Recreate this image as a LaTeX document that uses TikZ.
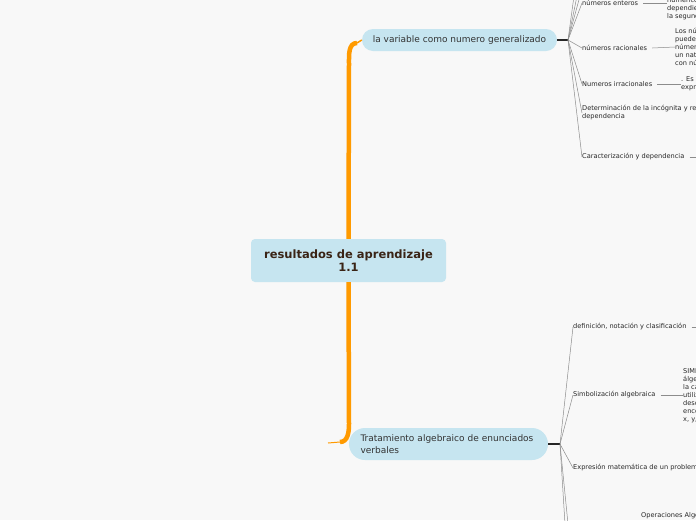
\documentclass[tikz,border=0pt]{standalone}
\usepackage{fontspec}
\setmainfont{DejaVu Sans}
\usetikzlibrary{positioning}
\definecolor{paper}{HTML}{F8F8F8}
\definecolor{bubble}{HTML}{C6E5F0}
\definecolor{rootink}{HTML}{3A2416}
\definecolor{trunkorange}{HTML}{FF9A00}
\definecolor{twiggray}{HTML}{8C8C8C}
\tikzset{
	x=1pt, y=-1pt, % one unit is one pixel of the map, y runs down
	rootbox/.style={fill=bubble, rounded corners=4pt, minimum width=195pt, minimum height=43pt, align=center, text=rootink, font=\bfseries\fontsize{11.5}{13.5}\selectfont}, % the centre topic
	branch/.style={fill=bubble, inner sep=0pt, text=black!80, font=\fontsize{9}{11.5}\selectfont}, % the two main topics
	leaf/.style={anchor=west, inner sep=0pt, align=left, text=black!85, font=\fontsize{6.6}{8}\selectfont}, % the small topics
	trunk/.style={draw=trunkorange, line width=4.5pt}, % orange connectors
	stub/.style={draw=black!85, line width=2.5pt}, % short black end after a main topic
	twig/.style={draw=twiggray, line width=0.5pt}, % thin gray connectors
}
\begin{document}
\begin{tikzpicture}
	\fill[paper] (0,0) rectangle (696,520);
	\useasboundingbox (0,0) rectangle (696,520);
	\clip (0,0) rectangle (696,520);

	% main topics
	\node[rootbox] (root) at (348.5,260.5) {resultados de aprendizaje\\1.1};
	\node[branch, rounded corners=11pt, minimum width=195pt, minimum height=22pt] (var) at (459.5,40) {la variable como numero generalizado};
	\node[branch, rounded corners=16pt, minimum width=199pt, minimum height=32pt, align=left, text width=176pt] (trat) at (448.5,444) {Tratamiento algebraico de enunciados\\verbales};

	% orange connectors
	\draw[trunk] (root.north) -- (349,64) to[out=90,in=180] (357,43);
	\draw[draw=trunkorange, line width=1.5pt] (357,43) -- (var.west);
	\draw[trunk] (root.south) -- (349,424) to[out=270,in=0] (340,442);
	\draw[draw=trunkorange, line width=1pt] (340,442) -- (328,443);

	% junctions
	\coordinate (vj) at (568,40);
	\coordinate (tj) at (560,444);
	\draw[stub] (var.east) -- (vj);
	\draw[stub] (trat.east) -- (tj);

	% small topics of the first branch
	\node[leaf] (enteros) at (582,3) {números enteros};
	\node[leaf] (racionales) at (582,48) {números racionales};
	\node[leaf] (irracionales) at (582,84) {Numeros irracionales};
	\node[leaf] (incognita) at (582,113) {Determinación de la incógnita y relación de\\dependencia};
	\node[leaf] (caract) at (582,157) {Caracterización y dependencia};
	\coordinate (upa) at (574,-4);
	\coordinate (upb) at (577,-4);
	\coordinate (upc) at (580,-4);

	\node[leaf] (enterosdef) at (667,9) {numéricos\\dependientes\\la segunda};
	\node[leaf] (racionalesdef) at (675,47) {Los números\\pueden ser\\números\\un natural\\con números};
	\node[leaf] (irracionalesdef) at (681,84) {. Es el\\expresión};
	\coordinate (caractend) at (700,157);

	\foreach \t in {enteros,racionales,irracionales,incognita,caract}
		\draw[twig] (vj) -- (\t.west);
	\foreach \t in {upa,upb,upc}
		\draw[twig] (vj) -- (\t);
	\draw[twig] (enteros.east) ++(5,0) -- (enterosdef.west |- enteros.west);
	\draw[twig] (racionales.east) ++(5,0) -- (racionalesdef.west);
	\draw[twig] (irracionales.east) ++(5,0) -- (irracionalesdef.west);
	\draw[twig] (caract.east) ++(5,0) -- (caractend);

	% small topics of the second branch
	\node[leaf] (definicion) at (573,327) {definición, notación y clasificación};
	\node[leaf] (simbol) at (573,395) {Simbolización algebraica};
	\node[leaf] (expresion) at (573,468) {Expresión matemática de un problema};
	\node[leaf] (operac) at (641,516) {Operaciones Algebraicas};
	\coordinate (downa) at (565,524);
	\coordinate (downb) at (568,524);

	\node[leaf] (simboldef) at (683,395) {SIMBOLIZACIÓN\\álgebra\\la cantidad\\utilizando\\desconocida\\encontrar\\x, y, z};
	\coordinate (definicionend) at (700,327);

	\foreach \t in {definicion,simbol,expresion}
		\draw[twig] (tj) -- (\t.west);
	\foreach \t in {downa,downb}
		\draw[twig] (tj) -- (\t);
	\draw[twig] (definicion.east) ++(5,0) -- (definicionend);
	\draw[twig] (simbol.east) ++(5,0) -- (simboldef.west);
\end{tikzpicture}
\end{document}
